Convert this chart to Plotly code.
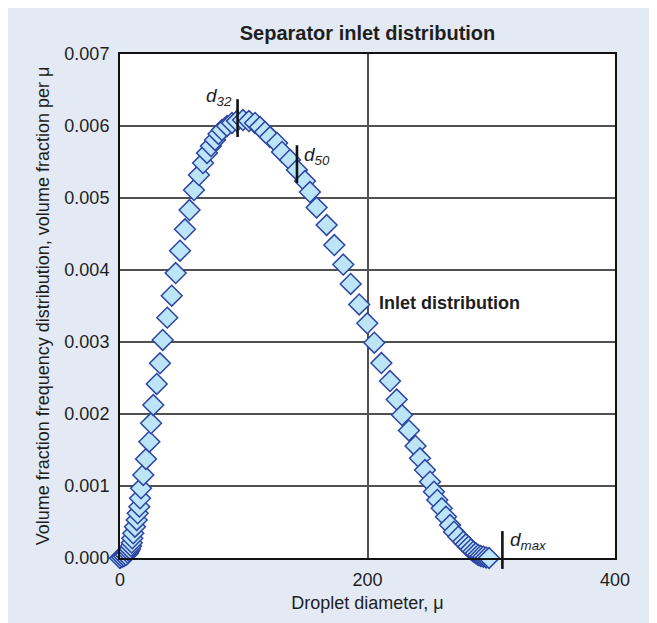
import plotly.graph_objects as go

# Droplet diameter (micron) and volume fraction per micron
diameter = [0, 1.6, 3.2, 4.8, 6.5, 7.3, 8.1, 8.9, 9.5, 9.9, 10.7, 12.1, 13.5, 14.3, 15.6,
            16.2, 17.0, 18.8, 21.0, 23.7, 25.1, 26.9, 29.7, 32.3, 34.5, 38.2, 41.8, 45.0,
            48.5, 52.5, 56.2, 59.8, 63.8, 67.1, 70.3, 73.5, 76.8, 79.6, 82.4, 86.5, 90.5,
            94.5, 99.4, 104.2, 109.1, 113.1, 117.2, 121.2, 126.9, 130.9, 137.4, 143.0,
            149.5, 153.5, 158.9, 167.0, 173.2, 180.4, 186.4, 193.3, 199.8, 205.5, 211.2,
            218.2, 223.6, 227.9, 233.5, 238.8, 242.4, 246.5, 250.5, 253.7, 256.4, 260.0,
            263.4, 266.7, 269.9, 273.4, 277.4, 279.5, 281.5, 283.5, 285.5, 287.5, 289.5,
            291.5, 293.6, 295.9, 298.2]
vol_frac = [0.000, 0.014, 0.028, 0.042, 0.069, 0.097, 0.125, 0.167, 0.213, 0.274, 0.343,
            0.435, 0.528, 0.621, 0.713, 0.829, 0.968, 1.153, 1.375, 1.615, 1.871, 2.125,
            2.417, 2.704, 3.028, 3.338, 3.643, 3.958, 4.268, 4.565, 4.833, 5.111, 5.319,
            5.486, 5.625, 5.722, 5.806, 5.889, 5.944, 6.000, 6.042, 6.069, 6.083, 6.069,
            6.042, 5.986, 5.917, 5.847, 5.764, 5.639, 5.528, 5.389, 5.236, 5.083, 4.868,
            4.625, 4.347, 4.076, 3.806, 3.521, 3.260, 2.990, 2.708, 2.458, 2.201, 1.986,
            1.771, 1.556, 1.385, 1.222, 1.060, 0.921, 0.806, 0.690, 0.574, 0.458, 0.365,
            0.296, 0.226, 0.190, 0.157, 0.120, 0.088, 0.065, 0.042, 0.028, 0.018, 0.008,
            0.000]
vol_frac = [v / 1000 for v in vol_frac]

# Characteristic diameters (marker lines) and labels
char_names = ["d32", "d50", "dmax"]
char_x = [95, 143, 309]
char_y = [0.00611, 0.00547, 0.000111]
label_text = ["<i>d<sub>32</sub></i>", "<i>d<sub>50</sub></i>", "<i>d<sub>max</sub></i>"]
label_x = [92, 147, 313.5]
label_y = [0.0064, 0.00558, 0.000236]
label_anchor = ["right", "left", "left"]

y_ticks = [0.000, 0.001, 0.002, 0.003, 0.004, 0.005, 0.006, 0.007]
x_ticks = [0, 200, 400]

FONT = "Liberation Sans, Arial, sans-serif"
INK = "#1e1e1e"
BG = "#e3eaf4"
W, H = 649, 615

fig = go.Figure()
fig.add_trace(go.Scatter(
    x=diameter, y=vol_frac, mode="markers", cliponaxis=False,
    marker=dict(symbol="diamond", size=16, color="#bde5f8",
                line=dict(color="#2c44a3", width=1.5)),
    hoverinfo="skip", showlegend=False))
fig.add_trace(go.Scatter(
    x=char_x, y=char_y, mode="markers", cliponaxis=False,
    marker=dict(symbol="line-ns", size=27, color="black",
                line=dict(color="#111111", width=2.6)),
    hoverinfo="skip", showlegend=False))

for t, x, y, a in zip(label_text, label_x, label_y, label_anchor):
    fig.add_annotation(x=x, y=y, xref="x", yref="y", text=t, showarrow=False,
                       xanchor=a, yanchor="middle",
                       font=dict(family=FONT, size=19, color=INK))

fig.add_annotation(x=208, y=0.00354, xref="x", yref="y", text="<b>Inlet distribution</b>",
                   showarrow=False, xanchor="left", yanchor="middle",
                   font=dict(family=FONT, size=18, color=INK))

fig.update_layout(
    width=W, height=H,
    margin=dict(l=112, r=42, t=46, b=65),
    paper_bgcolor=BG, plot_bgcolor="white",
    title=dict(text="<b>Separator inlet distribution</b>", x=0.5, xref="paper",
               y=1 - 25 / H, yref="container", xanchor="center", yanchor="middle",
               font=dict(family=FONT, size=20, color=INK)),
    font=dict(family=FONT, size=18, color=INK),
    xaxis=dict(range=[0, 400], tickvals=x_ticks, ticktext=[str(v) for v in x_ticks],
               showgrid=True, gridcolor="#505050", gridwidth=1.5,
               showline=True, linecolor="#111111", linewidth=2, mirror=True,
               ticks="", zeroline=False, ticklabelstandoff=4,
               tickfont=dict(family=FONT, size=18, color=INK),
               title=dict(text="Droplet diameter, μ", standoff=8,
                          font=dict(family=FONT, size=18, color=INK))),
    yaxis=dict(range=[0, 0.007], tickvals=y_ticks, tickformat=".3f",
               showgrid=True, gridcolor="#505050", gridwidth=1.5,
               showline=True, linecolor="#111111", linewidth=2, mirror=True,
               ticks="", zeroline=False, ticklabelstandoff=5,
               tickfont=dict(family=FONT, size=18, color=INK),
               title=dict(text="Volume fraction frequency distribution, volume fraction per μ",
                          standoff=10,
                          font=dict(family=FONT, size=18, color=INK))),
)

fig.write_html("out.html")
